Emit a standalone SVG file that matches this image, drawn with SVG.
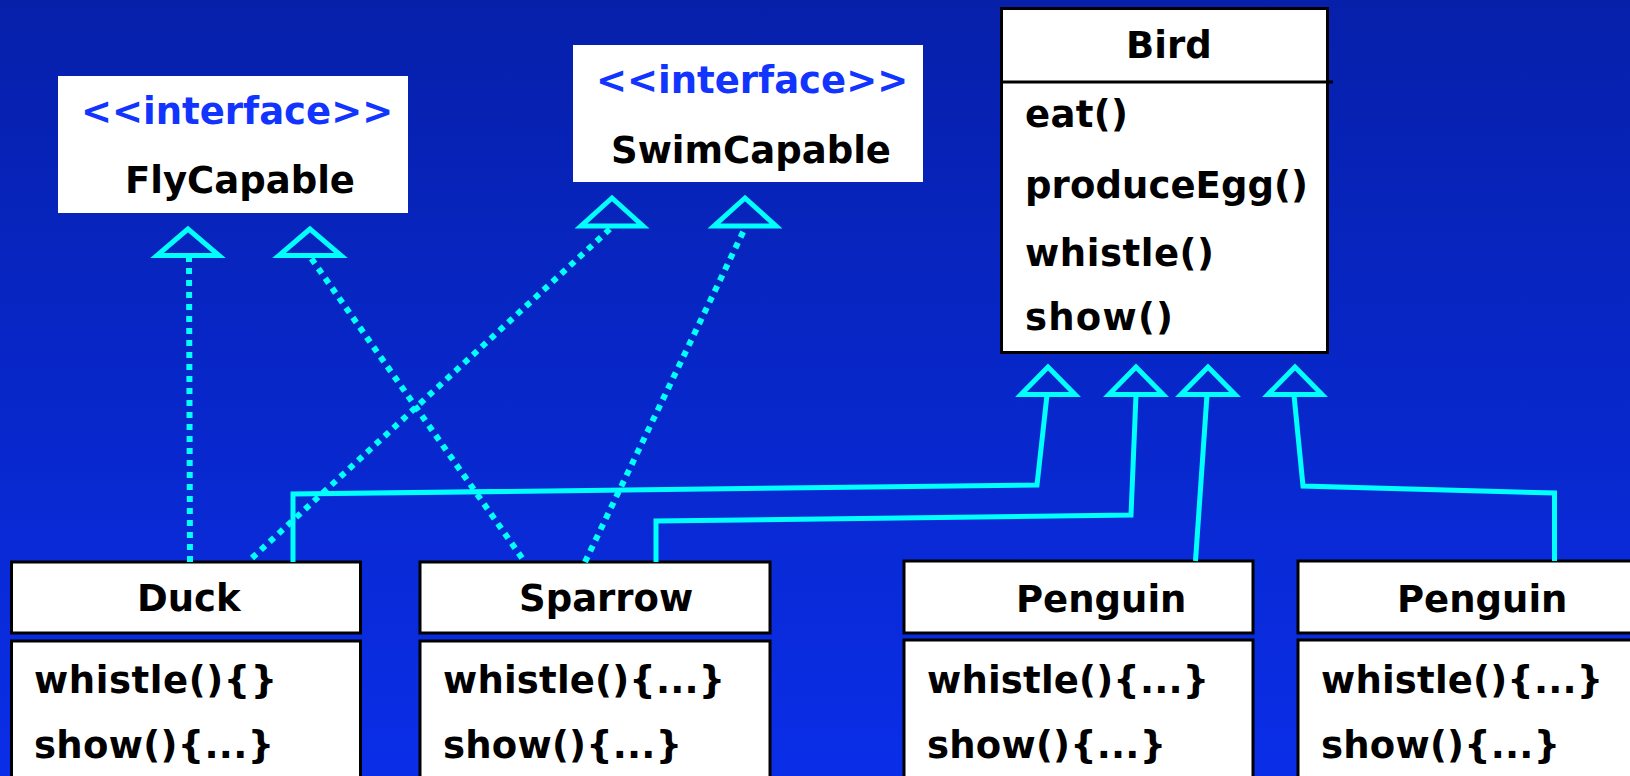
<svg xmlns="http://www.w3.org/2000/svg" width="1630" height="776" viewBox="0 0 1630 776">
  <defs>
    <linearGradient id="bg" x1="0" y1="0" x2="0" y2="1">
      <stop offset="0" stop-color="#0620AA"/>
      <stop offset="1" stop-color="#0A2EE8"/>
    </linearGradient>
    <style>
      text { font-family: "DejaVu Sans", Verdana, sans-serif; font-weight: bold; font-size: 37px; fill: #000; }
      .stereo { fill: #1234FF; }
      .iface { fill: #fff; stroke: none; }
      .box { fill: #fff; stroke: #000; stroke-width: 3; }
      .dotted { fill: none; stroke: #00FFFF; stroke-width: 6; stroke-dasharray: 6 6; }
      .solid { fill: none; stroke: #00FFFF; stroke-width: 5; stroke-linejoin: miter; }
      .head { fill: none; stroke: #00FFFF; stroke-width: 5; stroke-linejoin: miter; }
    </style>
  </defs>

  <rect x="0" y="0" width="1630" height="776" fill="url(#bg)"/>

  <!-- interfaces -->
  <g id="flycapable">
    <rect class="iface" x="58" y="76" width="350" height="137"/>
    <text class="stereo" x="81" y="124">&lt;&lt;interface&gt;&gt;</text>
    <text x="125" y="193">FlyCapable</text>
  </g>

  <g id="swimcapable">
    <rect class="iface" x="573" y="45" width="350" height="137"/>
    <text class="stereo" x="596" y="93">&lt;&lt;interface&gt;&gt;</text>
    <text x="611" y="163">SwimCapable</text>
  </g>

  <!-- base class -->
  <g id="bird">
    <rect class="box" x="1001.5" y="8.5" width="326" height="344"/>
    <line x1="1001.5" y1="82" x2="1333" y2="82" stroke="#000" stroke-width="3"/>
    <text x="1126" y="58">Bird</text>
    <text x="1025" y="127" textLength="103" lengthAdjust="spacing">eat()</text>
    <text x="1025" y="198" textLength="283" lengthAdjust="spacing">produceEgg()</text>
    <text x="1025" y="266" textLength="189" lengthAdjust="spacing">whistle()</text>
    <text x="1025" y="330" textLength="148" lengthAdjust="spacing">show()</text>
  </g>

  <!-- subclasses -->
  <g id="duck">
    <rect class="box" x="11.5" y="562" width="349" height="71"/>
    <rect class="box" x="11.5" y="641" width="349" height="150"/>
    <text x="137" y="611">Duck</text>
    <text x="34" y="693" textLength="243" lengthAdjust="spacing">whistle(){}</text>
    <text x="34" y="758" textLength="240" lengthAdjust="spacing">show(){...}</text>
  </g>

  <g id="sparrow">
    <rect class="box" x="420" y="562" width="350" height="71"/>
    <rect class="box" x="420" y="641" width="350" height="150"/>
    <text x="519" y="611">Sparrow</text>
    <text x="443" y="693" textLength="282" lengthAdjust="spacing">whistle(){...}</text>
    <text x="443" y="758" textLength="239" lengthAdjust="spacing">show(){...}</text>
  </g>

  <g id="penguin-1">
    <rect class="box" x="904" y="561" width="349" height="72"/>
    <rect class="box" x="904" y="640" width="349" height="150"/>
    <text x="1016" y="612">Penguin</text>
    <text x="927" y="693" textLength="282" lengthAdjust="spacing">whistle(){...}</text>
    <text x="927" y="758" textLength="239" lengthAdjust="spacing">show(){...}</text>
  </g>

  <g id="penguin-2">
    <rect class="box" x="1298" y="561" width="350" height="72"/>
    <rect class="box" x="1298" y="640" width="350" height="150"/>
    <text x="1397" y="612">Penguin</text>
    <text x="1321" y="693" textLength="282" lengthAdjust="spacing">whistle(){...}</text>
    <text x="1321" y="758" textLength="239" lengthAdjust="spacing">show(){...}</text>
  </g>

  <!-- realization and generalization connectors -->
  <g id="connectors">
    <!-- realization (dotted) -->
    <line class="dotted" x1="190" y1="562" x2="189" y2="258"/>
    <line class="dotted" x1="252" y1="558" x2="611" y2="228"/>
    <line class="dotted" x1="522" y1="558" x2="311" y2="258"/>
    <line class="dotted" x1="585" y1="562" x2="745" y2="228"/>
    <polygon class="head" points="188,229 157,255.5 219,255.5"/>
    <polygon class="head" points="310,229 279,255.5 341,255.5"/>
    <polygon class="head" points="612,198 581,226 643,226"/>
    <polygon class="head" points="745,198 714,226 776,226"/>

    <!-- generalization (solid) -->
    <polyline class="solid" points="293,562 293,494 1037,485 1047,395"/>
    <polyline class="solid" points="656,562 656,521 1131,515 1136,395"/>
    <polyline class="solid" points="1195.5,561 1207,395"/>
    <polyline class="solid" points="1554.5,561 1554.5,493 1303,486 1294,395"/>
    <polygon class="head" points="1048,367 1021,394.5 1075,394.5"/>
    <polygon class="head" points="1136,367 1109,394.5 1163,394.5"/>
    <polygon class="head" points="1208,367 1181,394.5 1235,394.5"/>
    <polygon class="head" points="1295,367 1268,394.5 1322,394.5"/>
  </g>
</svg>
